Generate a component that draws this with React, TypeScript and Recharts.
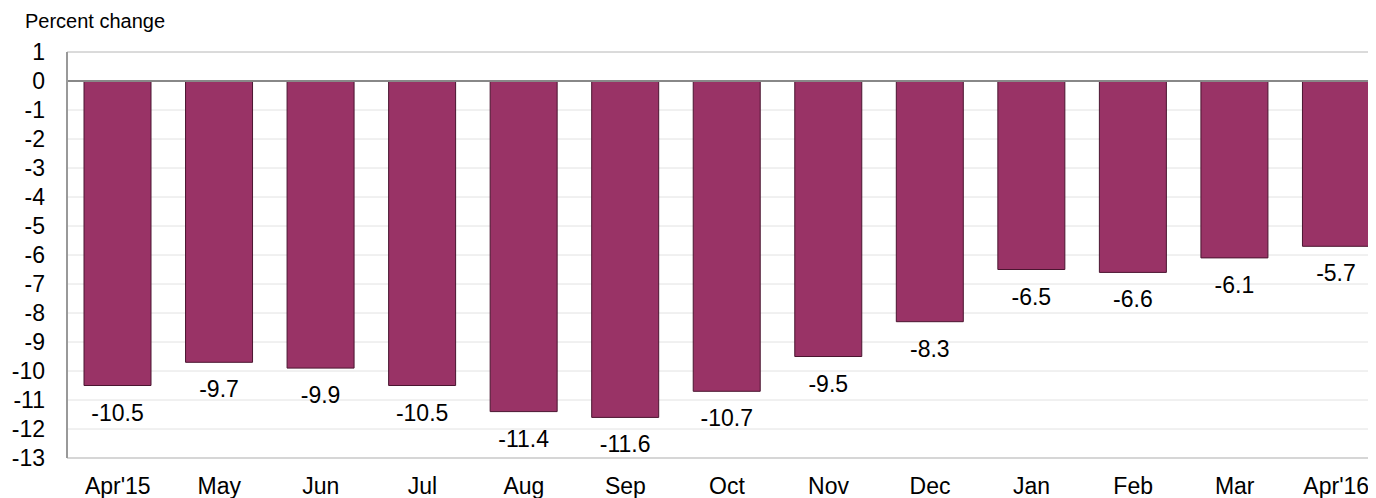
import React from "react";
import {
  BarChart,
  Bar,
  XAxis,
  YAxis,
  CartesianGrid,
  ReferenceLine,
  LabelList,
} from "recharts";

const months = [
  "Apr'15",
  "May",
  "Jun",
  "Jul",
  "Aug",
  "Sep",
  "Oct",
  "Nov",
  "Dec",
  "Jan",
  "Feb",
  "Mar",
  "Apr'16",
];
const change = [
  -10.5, -9.7, -9.9, -10.5, -11.4, -11.6, -10.7, -9.5, -8.3, -6.5, -6.6, -6.1,
  -5.7,
];
const yTicks = [1, 0, -1, -2, -3, -4, -5, -6, -7, -8, -9, -10, -11, -12, -13];

const data = months.map((m, i) => ({ month: m, value: change[i] }));

const FONT = "'Liberation Sans', Arial, sans-serif";
const SIZE = 23;

const PlainText = ({ x, y, anchor, children }: any) => (
  <text
    x={x}
    y={y}
    textAnchor={anchor}
    dominantBaseline="central"
    fontSize={SIZE}
    fontFamily={FONT}
    fill="#000"
  >
    {children}
  </text>
);

const BelowLabel = (props: any) => {
  const { x, y, width, height, value } = props;
  const bottom = Math.max(Number(y), Number(y) + Number(height));
  return (
    <PlainText x={Number(x) + Number(width) / 2} y={bottom + 27} anchor="middle">
      {Number(value).toFixed(1)}
    </PlainText>
  );
};

const MonthTick = (props: any) => {
  const { x, y, payload } = props;
  return (
    <PlainText x={x} y={Number(y) + 8.5} anchor="middle">
      {payload.value}
    </PlainText>
  );
};

const ValueTick = (props: any) => {
  const { x, y, payload } = props;
  return (
    <PlainText x={x} y={y} anchor="end">
      {payload.value}
    </PlainText>
  );
};

const App = () => {
  return (
    <div
      style={{
        position: "relative",
        width: 1368,
        height: 490,
        overflow: "hidden",
        fontFamily: FONT,
      }}
    >
      <div
        style={{
          position: "absolute",
          left: 17,
          top: 2,
          fontSize: 20,
          color: "#000",
          whiteSpace: "nowrap",
        }}
      >
        Percent change
      </div>
      <BarChart
        width={1400}
        height={490}
        data={data}
        margin={{ top: 44, right: 21, left: 0, bottom: 0 }}
      >
        <CartesianGrid vertical={false} stroke="#e2e2e2" />
        <XAxis
          dataKey="month"
          height={40}
          tickLine={false}
          tickSize={0}
          tickMargin={19}
          axisLine={{ stroke: "#bbbbbb", strokeWidth: 1 }}
          tick={<MonthTick />}
          interval={0}
        />
        <YAxis
          width={59}
          domain={[-13, 1]}
          ticks={yTicks}
          interval={0}
          tickLine={false}
          tickSize={0}
          tickMargin={22}
          axisLine={{ stroke: "#999999", strokeWidth: 2 }}
          tick={<ValueTick />}
        />
        <ReferenceLine y={1} stroke="#c4c4c4" strokeWidth={1} />
        <Bar
          dataKey="value"
          barSize={67}
          fill="#993366"
          stroke="#4a1530"
          strokeWidth={1}
          isAnimationActive={false}
        >
          <LabelList dataKey="value" content={BelowLabel} />
        </Bar>
        <ReferenceLine y={0} stroke="#888888" strokeWidth={2} />
      </BarChart>
    </div>
  );
};

export default App;
